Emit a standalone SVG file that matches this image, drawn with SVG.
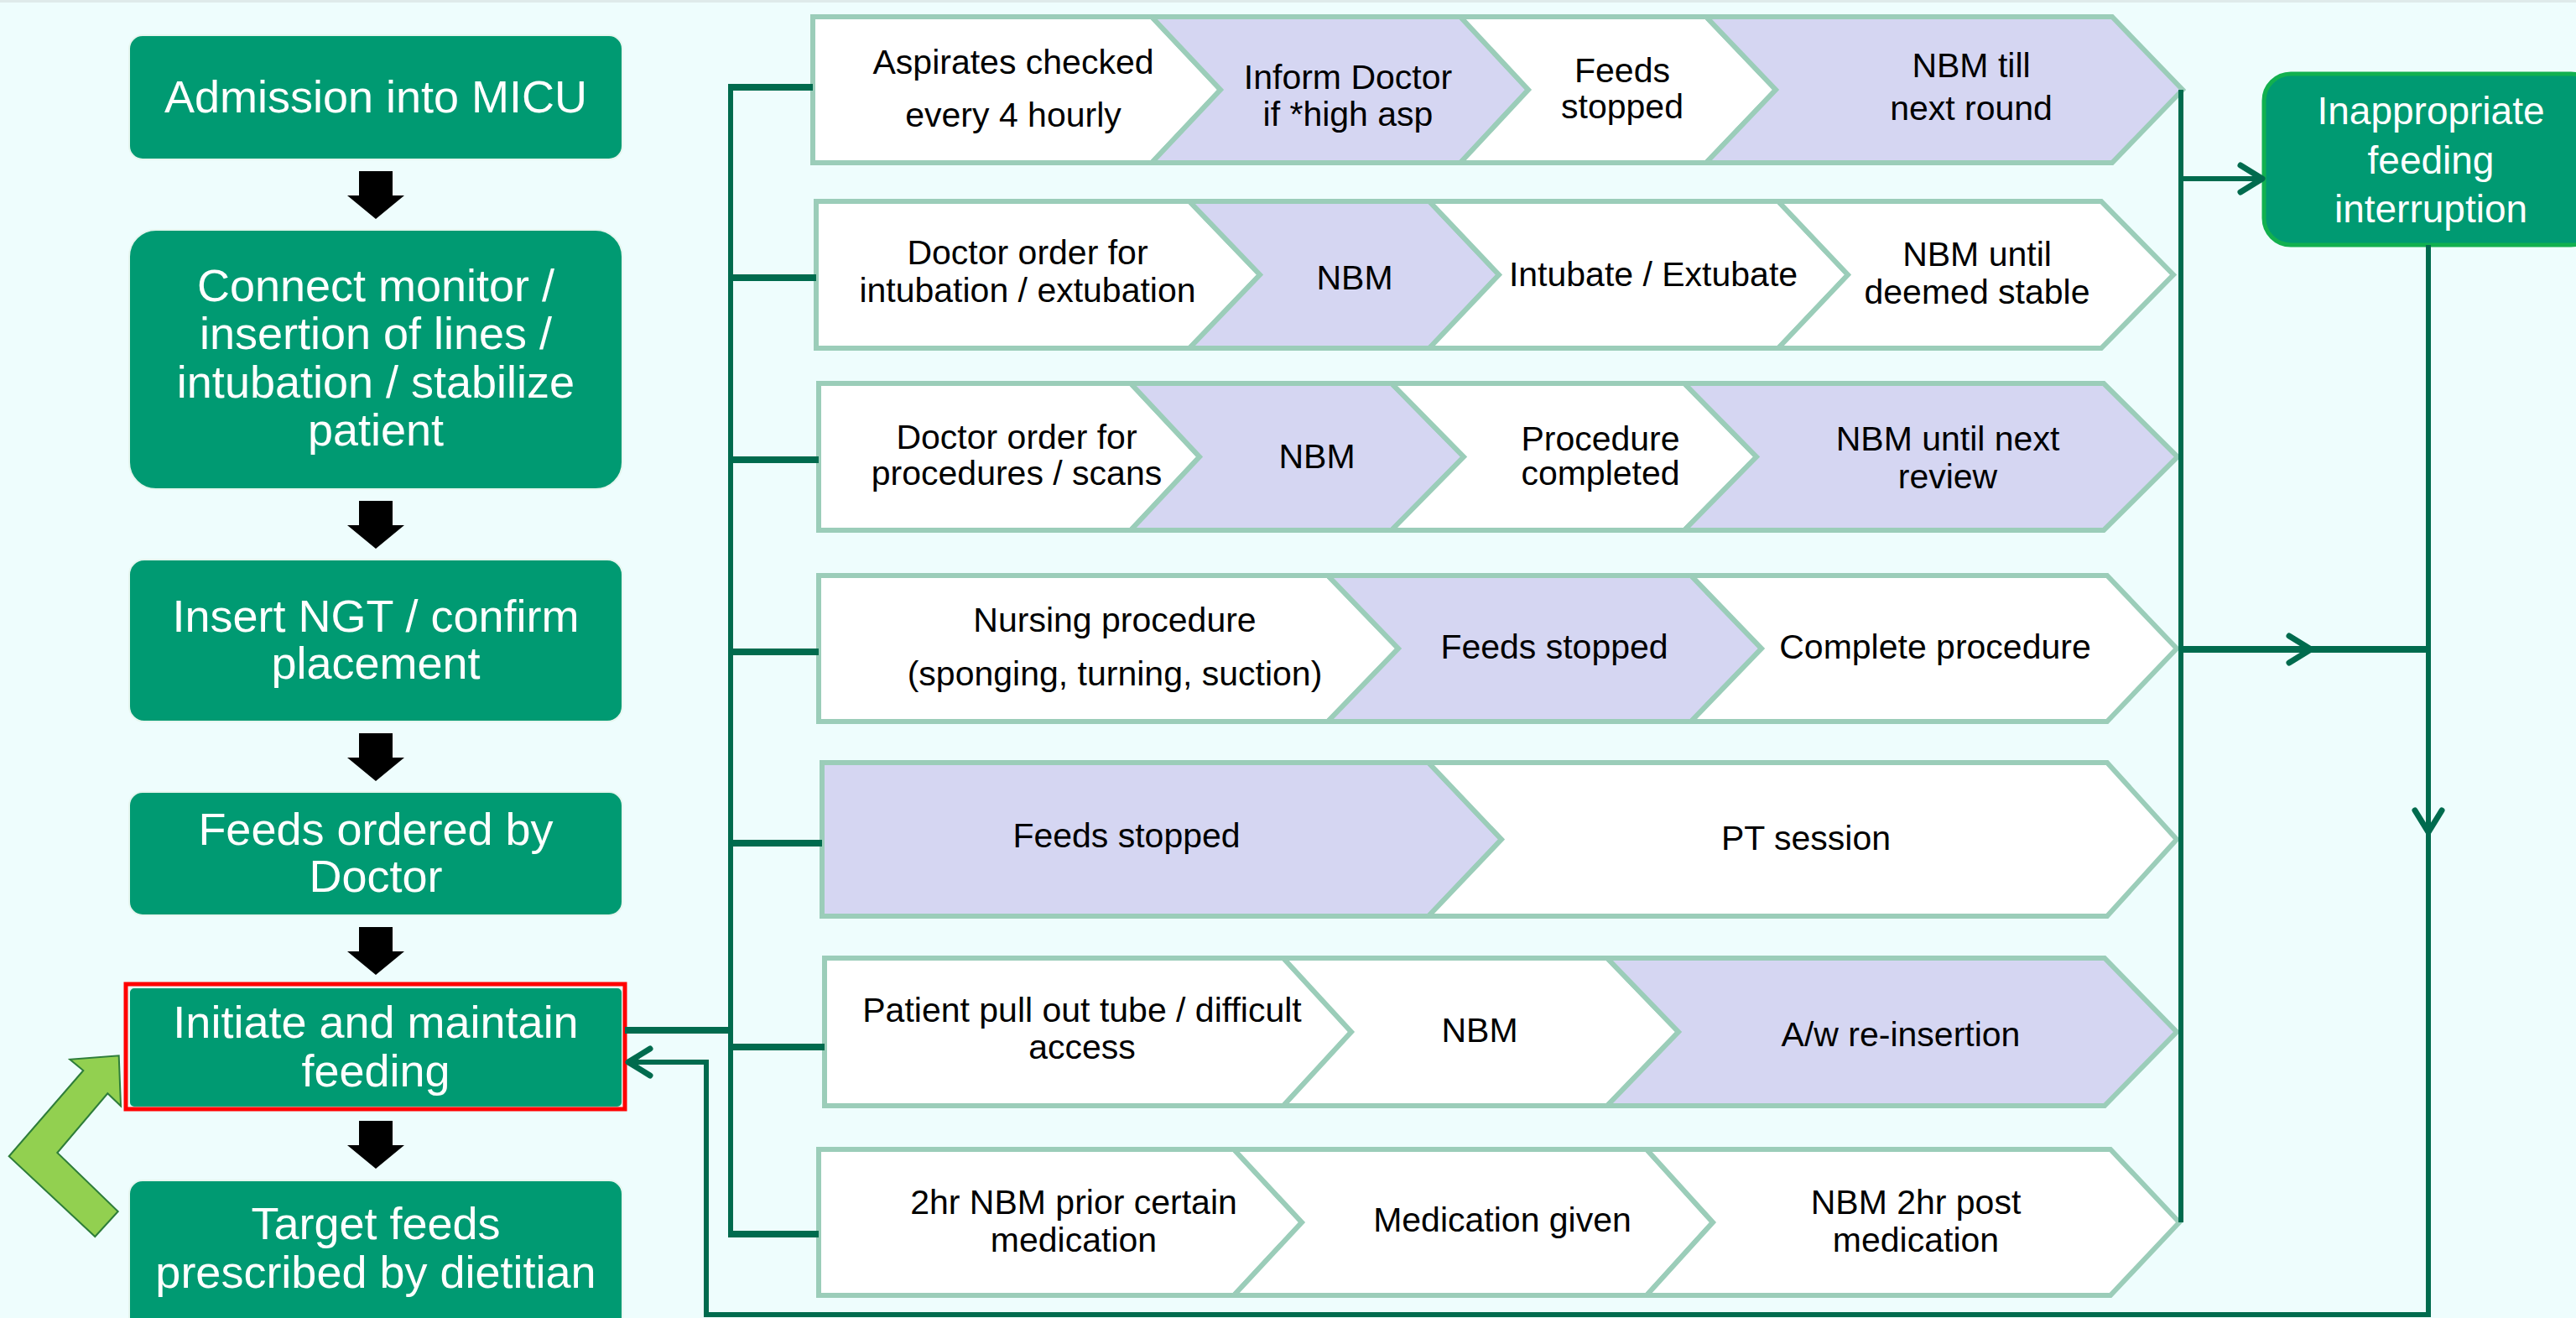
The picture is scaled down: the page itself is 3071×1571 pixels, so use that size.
<svg xmlns="http://www.w3.org/2000/svg" width="3071" height="1571" viewBox="0 0 3071 1571">
<defs>
<style>
.bg{fill:#eefdfd}
.box{fill:#009a72;stroke:#e6f6ef;stroke-width:2}
.bt{font-family:"Liberation Sans",Arial,sans-serif;font-size:54px;fill:#fff;text-anchor:middle}
.it{font-family:"Liberation Sans",Arial,sans-serif;font-size:46px;fill:#fff;text-anchor:middle}
.ct{font-family:"Liberation Sans",Arial,sans-serif;font-size:41px;fill:#000;text-anchor:middle}
.w{fill:#fff;stroke:#9bcdb9;stroke-width:6}
.l{fill:#d5d6f2;stroke:#9bcdb9;stroke-width:6}
.ln{fill:none;stroke:#006b4e;stroke-width:6}
.br{fill:none;stroke:#006b4e;stroke-width:8}
.dn{fill:#000}
</style>
<path id="down" d="M-20,0H20V29H34L0,57L-34,29H-20Z"/>
<marker id="ah" markerUnits="userSpaceOnUse" markerWidth="46" markerHeight="46" viewBox="0 0 46 46" refX="40" refY="23" orient="auto">
<path d="M14,7 L40,23 L14,39" fill="none" stroke="#006b4e" stroke-width="7" stroke-linecap="round" stroke-linejoin="round"/>
</marker>
</defs>
<rect class="bg" x="0" y="0" width="3071" height="1571"/>
<rect x="0" y="0" width="3071" height="3" fill="#dfeaea"/>

<!-- left column -->
<g id="n-admission"><rect class="box" x="154" y="42" width="588" height="148" rx="16"/><text class="bt" x="448" y="134">Admission into MICU</text></g>
<g id="n-connect"><rect class="box" x="154" y="274" width="588" height="309" rx="32"/><text class="bt"><tspan x="448" y="359">Connect monitor /</tspan><tspan x="448" y="416">insertion of lines /</tspan><tspan x="448" y="474">intubation / stabilize</tspan><tspan x="448" y="531">patient</tspan></text></g>
<g id="n-ngt"><rect class="box" x="154" y="667" width="588" height="193" rx="18"/><text class="bt"><tspan x="448" y="753">Insert NGT / confirm</tspan><tspan x="448" y="809">placement</tspan></text></g>
<g id="n-feeds"><rect class="box" x="154" y="944" width="588" height="147" rx="16"/><text class="bt"><tspan x="448" y="1007">Feeds ordered by</tspan><tspan x="448" y="1063">Doctor</tspan></text></g>
<g id="n-initiate"><rect class="box" x="154" y="1177" width="588" height="143" rx="6"/><rect x="150" y="1173" width="595" height="149" fill="none" stroke="#ff0000" stroke-width="5"/><text class="bt"><tspan x="448" y="1237">Initiate and maintain</tspan><tspan x="448" y="1295">feeding</tspan></text></g>
<g id="n-target"><rect class="box" x="154" y="1407" width="588" height="200" rx="16"/><text class="bt"><tspan x="448" y="1477">Target feeds</tspan><tspan x="448" y="1535">prescribed by dietitian</tspan></text></g>

<g id="down-arrows">
<use href="#down" class="dn" x="448" y="204"/>
<use href="#down" class="dn" x="448" y="597"/>
<use href="#down" class="dn" x="448" y="874"/>
<use href="#down" class="dn" x="448" y="1105"/>
<use href="#down" class="dn" x="448" y="1336"/>
</g>

<g id="loop-arrow"><polygon points="141.7,1258.3 144,1318.3 128.3,1303.3 68.3,1374 140.7,1444 113.3,1474 10.7,1378.3 99.3,1276 83.3,1262.7" fill="#92d050" stroke="#2e7d3a" stroke-width="2"/></g>

<!-- right box -->
<g id="n-inappropriate"><rect x="2699" y="88" width="398" height="204" rx="32" fill="#009a72" stroke="#12b04f" stroke-width="5"/><text class="it"><tspan x="2898" y="148">Inappropriate</tspan><tspan x="2898" y="207">feeding</tspan><tspan x="2898" y="265">interruption</tspan></text></g>

<!-- row 1 -->
<g id="row1">
<g id="r1a"><polygon class="w" points="969,20 1373,20 1455,107 1373,194 969,194"/><text class="ct"><tspan x="1208" y="88">Aspirates checked</tspan><tspan x="1208" y="151">every 4 hourly</tspan></text></g>
<g id="r1b"><polygon class="l" points="1373,20 1741,20 1822,107 1741,194 1373,194 1455,107"/><text class="ct"><tspan x="1607" y="106">Inform Doctor</tspan><tspan x="1607" y="150">if *high asp</tspan></text></g>
<g id="r1c"><polygon class="w" points="1741,20 2034,20 2117,107 2034,194 1741,194 1822,107"/><text class="ct"><tspan x="1934" y="98">Feeds</tspan><tspan x="1934" y="141">stopped</tspan></text></g>
<g id="r1d"><polygon class="l" points="2034,20 2518,20 2602,107 2518,194 2034,194 2117,107"/><text class="ct"><tspan x="2350" y="92">NBM till</tspan><tspan x="2350" y="143">next round</tspan></text></g>
</g>
<!-- row 2 -->
<g id="row2">
<g id="r2a"><polygon class="w" points="973,240 1418,240 1502,327.5 1418,415 973,415"/><text class="ct"><tspan x="1225" y="315">Doctor order for</tspan><tspan x="1225" y="360">intubation / extubation</tspan></text></g>
<g id="r2b"><polygon class="l" points="1418,240 1704,240 1787,327.5 1704,415 1418,415 1502,327.5"/><text class="ct" x="1615" y="345">NBM</text></g>
<g id="r2c"><polygon class="w" points="1704,240 2120,240 2203,327.5 2120,415 1704,415 1787,327.5"/><text class="ct" x="1971" y="341">Intubate / Extubate</text></g>
<g id="r2d"><polygon class="w" points="2120,240 2505,240 2591,327.5 2505,415 2120,415 2203,327.5"/><text class="ct"><tspan x="2357" y="317">NBM until</tspan><tspan x="2357" y="362">deemed stable</tspan></text></g>
</g>
<!-- row 3 -->
<g id="row3">
<g id="r3a"><polygon class="w" points="976,457 1348,457 1430,544.5 1348,632 976,632"/><text class="ct"><tspan x="1212" y="535">Doctor order for</tspan><tspan x="1212" y="578">procedures / scans</tspan></text></g>
<g id="r3b"><polygon class="l" points="1348,457 1659,457 1745,544.5 1659,632 1348,632 1430,544.5"/><text class="ct" x="1570" y="558">NBM</text></g>
<g id="r3c"><polygon class="w" points="1659,457 2008,457 2094,544.5 2008,632 1659,632 1745,544.5"/><text class="ct"><tspan x="1908" y="537">Procedure</tspan><tspan x="1908" y="578">completed</tspan></text></g>
<g id="r3d"><polygon class="l" points="2008,457 2508,457 2596,544.5 2508,632 2008,632 2094,544.5"/><text class="ct"><tspan x="2322" y="537">NBM until next</tspan><tspan x="2322" y="582">review</tspan></text></g>
</g>
<!-- row 4 -->
<g id="row4">
<g id="r4a"><polygon class="w" points="976,686 1583,686 1667,773 1583,860 976,860"/><text class="ct"><tspan x="1329" y="753">Nursing procedure</tspan><tspan x="1329" y="817">(sponging, turning, suction)</tspan></text></g>
<g id="r4b"><polygon class="l" points="1583,686 2016,686 2100,773 2016,860 1583,860 1667,773"/><text class="ct" x="1853" y="785">Feeds stopped</text></g>
<g id="r4c"><polygon class="w" points="2016,686 2512,686 2595,773 2512,860 2016,860 2100,773"/><text class="ct" x="2307" y="785">Complete procedure</text></g>
</g>
<!-- row 5 -->
<g id="row5">
<g id="r5a"><polygon class="l" points="980,909 1703,909 1790,1000.5 1703,1092 980,1092"/><text class="ct" x="1343" y="1010">Feeds stopped</text></g>
<g id="r5b"><polygon class="w" points="1703,909 2512,909 2595,1000.5 2512,1092 1703,1092 1790,1000.5"/><text class="ct" x="2153" y="1013">PT session</text></g>
</g>
<!-- row 6 -->
<g id="row6">
<g id="r6a"><polygon class="w" points="983,1142 1530,1142 1611,1230 1530,1318 983,1318"/><text class="ct"><tspan x="1290" y="1218">Patient pull out tube / difficult</tspan><tspan x="1290" y="1262">access</tspan></text></g>
<g id="r6b"><polygon class="w" points="1530,1142 1916,1142 2001,1230 1916,1318 1530,1318 1611,1230"/><text class="ct" x="1764" y="1242">NBM</text></g>
<g id="r6c"><polygon class="l" points="1916,1142 2509,1142 2595,1230 2509,1318 1916,1318 2001,1230"/><text class="ct" x="2266" y="1247">A/w re-insertion</text></g>
</g>
<!-- row 7 -->
<g id="row7">
<g id="r7a"><polygon class="w" points="976,1370 1471,1370 1552,1457 1471,1544 976,1544"/><text class="ct"><tspan x="1280" y="1447">2hr NBM prior certain</tspan><tspan x="1280" y="1492">medication</tspan></text></g>
<g id="r7b"><polygon class="w" points="1471,1370 1963,1370 2042,1457 1963,1544 1471,1544 1552,1457"/><text class="ct" x="1791" y="1468">Medication given</text></g>
<g id="r7c"><polygon class="w" points="1963,1370 2516,1370 2598,1457 2516,1544 1963,1544 2042,1457"/><text class="ct"><tspan x="2284" y="1447">NBM 2hr post</tspan><tspan x="2284" y="1492">medication</tspan></text></g>
</g>

<!-- connectors -->
<g id="connectors">
<path class="ln" d="M871,101V1474"/>
<path class="br" d="M868,104H969"/>
<path class="br" d="M868,331H973"/>
<path class="br" d="M868,548H976"/>
<path class="br" d="M868,777H976"/>
<path class="br" d="M868,1005H980"/>
<path class="br" d="M868,1248H983"/>
<path class="br" d="M868,1471H976"/>
<path class="br" d="M745,1228H871"/>
<path class="ln" d="M2600,107V1457"/>
<path class="ln" d="M2600,213H2697" marker-end="url(#ah)"/>
<path class="br" d="M2600,774H2755" marker-end="url(#ah)"/>
<path class="br" d="M2755,774H2895"/>
<path class="ln" d="M2895,292V992" marker-end="url(#ah)"/>
<path class="ln" d="M2895,990V1567H842V1266H749" marker-end="url(#ah)"/>
</g>
</svg>
